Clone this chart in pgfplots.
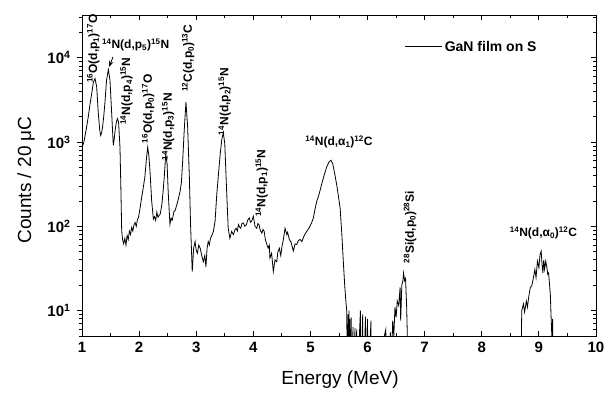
\documentclass[border=0pt]{standalone}
\usepackage{fontspec}
\setmainfont{Liberation Sans}
\usepackage{pgfplots}
\pgfplotsset{compat=1.18}
\usetikzlibrary{arrows.meta}

\pgfplotstableread{
E v
1.00 870
1.03 980
1.05 1150
1.08 1500
1.11 2000
1.14 2800
1.17 3760
1.20 5170
1.228 5680
1.257 4510
1.286 2180
1.31 1400
1.327 1200
1.345 1300
1.36 1510
1.38 2000
1.40 2860
1.43 5420
1.461 7260
1.49 5420
1.52 2180
1.548 913
1.565 1100
1.58 1380
1.60 1700
1.619 1900
1.64 1730
1.665 870
1.68 300
1.695 89
1.71 70
1.73 62
1.75 72
1.77 60
1.79 78
1.81 70
1.83 88
1.85 80
1.87 97
1.89 88
1.91 104
1.93 111
1.95 100
1.97 120
1.99 128
2.02 170
2.045 221
2.07 280
2.10 383
2.13 650
2.15 871
2.17 700
2.19 460
2.22 200
2.25 122
2.27 130
2.29 118
2.31 147
2.33 128
2.35 135
2.37 140
2.40 185
2.42 260
2.44 383
2.466 713
2.49 550
2.51 250
2.54 106
2.56 125
2.58 118
2.61 150
2.63 154
2.66 180
2.69 215
2.72 266
2.74 330
2.76 550
2.79 1380
2.82 2990
2.85 1500
2.88 380
2.90 110
2.92 46
2.93 29
2.955 55
2.98 66
3.00 52
3.02 48
3.045 60
3.07 55
3.10 44
3.125 38
3.15 45
3.17 33
3.19 55
3.21 66
3.23 60
3.25 72
3.28 80
3.30 87
3.33 115
3.36 240
3.39 420
3.42 725
3.45 1100
3.475 1280
3.50 955
3.53 290
3.56 95
3.59 72
3.62 87
3.65 80
3.68 92
3.70 95
3.72 88
3.74 105
3.76 98
3.78 95
3.80 108
3.825 110
3.85 100
3.88 105
3.90 118
3.93 126
3.95 112
3.97 115
4.00 132
4.02 110
4.03 100
4.06 95
4.08 108
4.10 105
4.12 90
4.15 83
4.17 92
4.19 87
4.21 70
4.23 63
4.26 55
4.28 60
4.29 42
4.32 48
4.35 29
4.38 40
4.41 38
4.43 50
4.455 55
4.48 45
4.50 57
4.525 69
4.555 95
4.585 80
4.60 85
4.63 70
4.66 65
4.70 51
4.73 62
4.76 61
4.79 68
4.82 70
4.85 66
4.875 73
4.90 80
4.935 87
4.96 92
4.99 100
5.02 110
5.05 125
5.08 160
5.11 197
5.155 246
5.20 323
5.24 405
5.285 508
5.325 580
5.36 609
5.39 555
5.43 405
5.47 282
5.52 164
5.55 80
5.575 38.7
5.60 20
5.62 13.1
5.635 10
5.65 1
5.66 9
5.665 1
5.675 10
5.68 1
5.69 8
5.70 1
5.715 8.3
5.72 1
5.745 6.4
5.75 1
5.78 6.2
5.785 1
5.81 6
5.815 1
5.875 10
5.88 1
5.915 9
5.92 1
5.965 8.5
5.97 1
6.00 8
6.005 1
6.06 7.6
6.065 1
6.32 6
6.325 1
6.40 5.5
6.405 1
6.44 7.6
6.46 5
6.48 11
6.50 8.3
6.52 13
6.545 11.5
6.57 18.8
6.58 7.6
6.60 20
6.62 23
6.63 28
6.65 22.5
6.665 24
6.685 11
6.70 4
6.71 1
8.68 1
8.70 10
8.73 12
8.75 9.6
8.78 13
8.80 11
8.82 14.3
8.85 18.8
8.875 19.7
8.90 23.6
8.93 30.9
8.95 24.7
8.975 38.7
9.00 32.4
9.02 46
9.04 50.8
9.055 35.4
9.07 28
9.085 40
9.10 31
9.12 38.7
9.14 32.4
9.155 27
9.17 28
9.20 15.7
9.21 10
9.225 5.3
9.23 1
9.24 8
9.245 1
10.0 1
}\spectrum

\newcommand{\lblfont}{\bfseries\fontsize{12}{14}\selectfont}
\newcommand{\ytl}[1]{\textbf{10\textsuperscript{#1}}}

\begin{document}
\begin{tikzpicture}
\begin{axis}[
  name=ax,
  at={(0pt,0pt)}, anchor=south west,
  scale only axis, width=514pt, height=321pt,
  xmin=1, xmax=10, ymin=5, ymax=32200,
  ymode=log,
  axis line style={line width=0.9pt},
  tick align=inside,
  xtick pos=both,
  ytick pos=right,
  yticklabel pos=left,
  xticklabel pos=left,
  xtick={1,2,3,4,5,6,7,8,9,10},
  xticklabels={1,2,3,4,5,6,7,8,9,10},
  minor x tick num=1,
  ytick={10,100,1000,10000},
  yticklabels={\ytl{1},\ytl{2},\ytl{3},\ytl{4}},
  minor ytick={5,6,7,8,9,20,30,40,50,60,70,80,90,200,300,400,500,600,700,800,900,2000,3000,4000,5000,6000,7000,8000,9000,20000,30000},
  major tick length=5pt, minor tick length=3pt,
  tick style={line width=0.8pt, black},
  xticklabel style={font=\bfseries\fontsize{15}{16}\selectfont, yshift=-2.5pt},
  yticklabel style={font=\fontsize{15}{16}\selectfont, xshift=-8pt},
  xlabel={Energy (MeV)},
  ylabel={Counts / 20 μC},
  xlabel style={font=\fontsize{19}{21}\selectfont, at={(axis description cs:0.502,-0.137)}, anchor=center},
  ylabel style={font=\fontsize{19}{21}\selectfont, at={(axis description cs:-0.109,0.486)}, anchor=center},
  legend style={draw=none, fill=none, at={(axis description cs:0.628,0.901)}, anchor=west, inner sep=0pt, font=\bfseries\fontsize{14}{16}\selectfont},
  legend cell align=left,
  legend image code/.code={\draw[line width=0.8pt,black] (0pt,0pt) -- (37pt,0pt);},
  clip=true,
]
\addplot[black, line width=0.8pt, sharp plot] table[x=E,y=v] {\spectrum};
\addlegendentry{GaN film on S}

\node[rotate=90, anchor=west, inner sep=0pt, font=\lblfont] at (axis cs:1.198,5000) {\textsuperscript{16}O(d,p\textsubscript{1})\textsuperscript{17}O};
\node[anchor=center, inner sep=0pt, font=\lblfont] at (axis cs:1.94,14150) {\textsuperscript{14}N(d,p\textsubscript{5})\textsuperscript{15}N};
\draw[-{Stealth[length=6pt,width=4.5pt]}, line width=0.8pt] (axis cs:1.545,10300) -- (axis cs:1.475,7800);
\node[rotate=90, anchor=west, inner sep=0pt, font=\lblfont] at (axis cs:1.78,1586) {\textsuperscript{14}N(d,p\textsubscript{4})\textsuperscript{15}N};
\node[rotate=90, anchor=west, inner sep=0pt, font=\lblfont] at (axis cs:2.16,968) {\textsuperscript{16}O(d,p\textsubscript{0})\textsuperscript{17}O};
\node[rotate=90, anchor=west, inner sep=0pt, font=\lblfont] at (axis cs:2.51,608) {\textsuperscript{14}N(d,p\textsubscript{3})\textsuperscript{15}N};
\node[rotate=90, anchor=west, inner sep=0pt, font=\lblfont] at (axis cs:2.86,3945) {\textsuperscript{12}C(d,p\textsubscript{0})\textsuperscript{13}C};
\node[rotate=90, anchor=west, inner sep=0pt, font=\lblfont] at (axis cs:3.50,1205) {\textsuperscript{14}N(d,p\textsubscript{2})\textsuperscript{15}N};
\node[rotate=90, anchor=west, inner sep=0pt, font=\lblfont] at (axis cs:4.147,128.5) {\textsuperscript{14}N(d,p\textsubscript{1})\textsuperscript{15}N};
\node[anchor=center, inner sep=0pt, font=\lblfont] at (axis cs:5.50,995) {\textsuperscript{14}N(d,α\textsubscript{1})\textsuperscript{12}C};
\node[rotate=90, anchor=west, inner sep=0pt, font=\lblfont] at (axis cs:6.744,36.2) {\textsuperscript{28}Si(d,p\textsubscript{0})\textsuperscript{28}Si};
\node[anchor=center, inner sep=0pt, font=\lblfont] at (axis cs:9.08,84) {\textsuperscript{14}N(d,α\textsubscript{0})\textsuperscript{12}C};
\end{axis}
\begin{axis}[
  at={(0pt,0pt)}, anchor=south west,
  scale only axis, width=514pt, height=321pt,
  xmin=1, xmax=10, ymin=5, ymax=32200,
  ymode=log,
  axis line style={line width=0.9pt},
  tick align=outside,
  ytick pos=left,
  xtick=\empty,
  ytick={10,100,1000,10000},
  yticklabels={},
  minor ytick={5,6,7,8,9,20,30,40,50,60,70,80,90,200,300,400,500,600,700,800,900,2000,3000,4000,5000,6000,7000,8000,9000,20000,30000},
  major tick length=5pt, minor tick length=3pt,
  tick style={line width=0.8pt, black},
]
\end{axis}
\pgfresetboundingbox
\path[use as bounding box] (-82pt,-57pt) rectangle (523pt,336pt);
\end{tikzpicture}
\end{document}
